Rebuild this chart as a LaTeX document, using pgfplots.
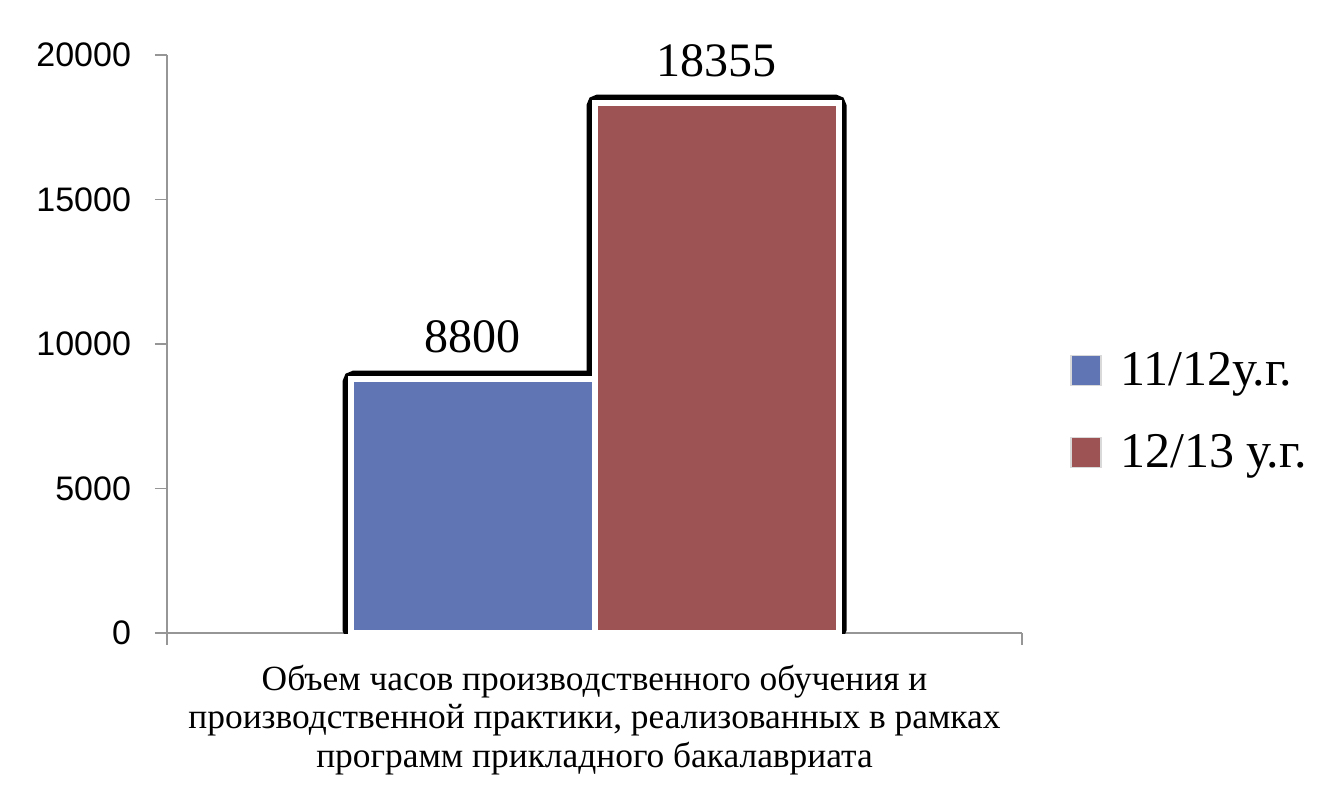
\documentclass[border=0pt]{standalone}
\usepackage{fontspec}
\setmainfont{Liberation Serif}
\newfontfamily\sansf{Liberation Sans}
\usepackage{pgfplots}
\pgfplotsset{compat=1.18}
\definecolor{barblue}{RGB}{96,117,180}
\definecolor{barred}{RGB}{157,83,84}
\definecolor{axgray}{RGB}{150,150,150}
\begin{document}
\begin{tikzpicture}
\begin{axis}[
  scale only axis,
  width=427.5pt, height=289pt,
  xmin=-0.5, xmax=0.5, ymin=0, ymax=20000,
  ybar, bar width=122pt,
  axis lines*=left,
  axis line style={axgray, line width=0.8pt},
  xtick={-0.5,0.5}, xticklabels={},
  ytick={0,5000,10000,15000,20000},
  tick align=outside, major tick length=6pt,
  tick style={axgray, line width=0.8pt},
  scaled ticks=false,
  /pgf/number format/assume math mode=true,
  /pgf/number format/1000 sep={},
  yticklabel style={font=\sansf\fontsize{17}{19}\selectfont, xshift=-8.5pt},
  xlabel={Объем часов производственного обучения и\\производственной практики, реализованных в рамках\\программ прикладного бакалавриата},
  xlabel style={align=center, font=\fontsize{17.7}{19.3}\selectfont, yshift=0.5pt},
  legend style={at={(1.056,0.493)}, anchor=north west, draw=none, fill=none,
    font=\fontsize{25}{28}\selectfont, row sep=19pt, column sep=7.5pt, inner sep=0pt},
  legend cell align=left,
  legend image code/.code={\path[#1, draw=white!70!gray, line width=0.6pt] (0pt,-7.5pt) rectangle (15pt,7.5pt);},
  nodes near coords style={font=\fontsize{24}{26}\selectfont, text=black, yshift=8pt},
]
\addplot[forget plot, bar shift=-61pt, fill=black, draw=black, line width=8pt, rounded corners=2pt] coordinates {(0,8800)};
\addplot[forget plot, bar shift=61pt, fill=black, draw=black, line width=8pt, rounded corners=2pt] coordinates {(0,18355)};
\addplot[bar shift=-61pt, fill=barblue, draw=white, line width=3pt, nodes near coords] coordinates {(0,8800)};
\addplot[bar shift=61pt, fill=barred, draw=white, line width=3pt, nodes near coords] coordinates {(0,18355)};
\legend{11/12у.г., 12/13 у.г.}
\end{axis}
\path[use as bounding box] (-83.5pt,-87.5pt) rectangle (583pt,316.5pt);
\end{tikzpicture}
\end{document}
